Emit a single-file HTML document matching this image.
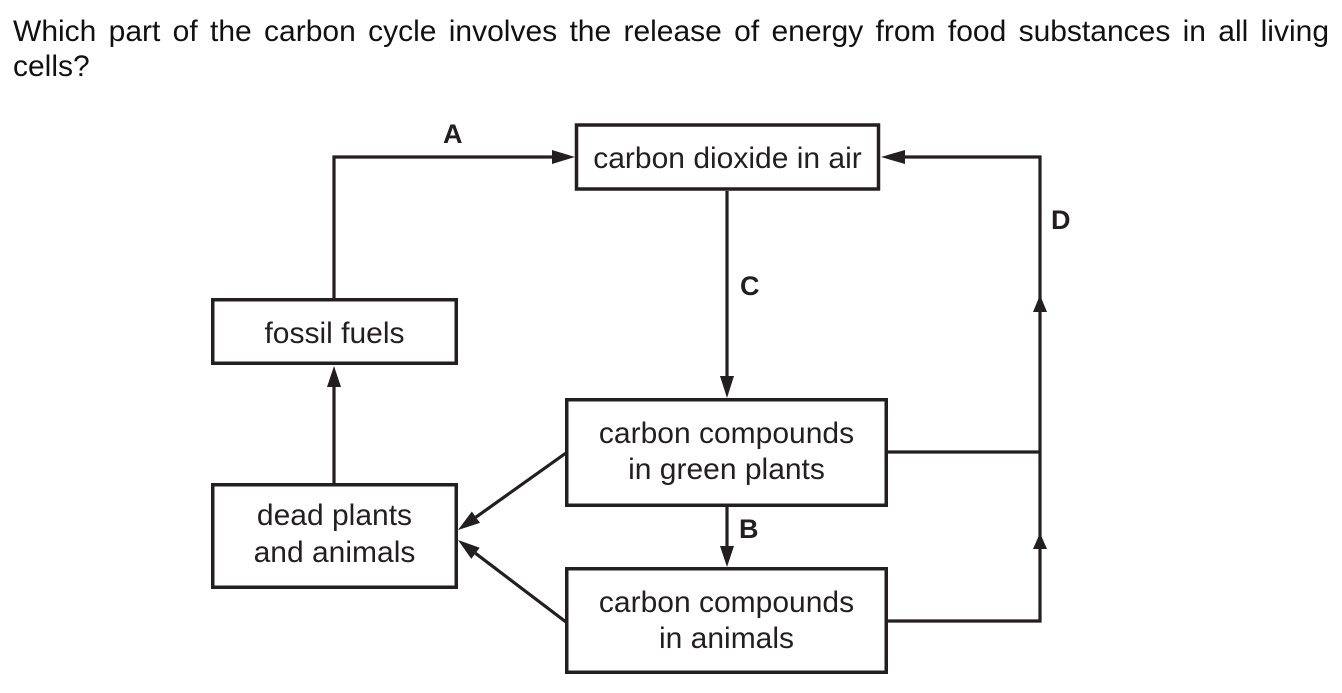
<!DOCTYPE html>
<html>
<head>
<meta charset="utf-8">
<style>
  html, body { margin: 0; padding: 0; background: #fff; }
  body { width: 1342px; height: 693px; position: relative; overflow: hidden; }
  .q { position: absolute; left: 13px; width: 1316px; font-family: "Liberation Sans", Arial, sans-serif; font-size: 30px; line-height: 35px; color: #111; white-space: nowrap; }
  .l1 { top: 14px; text-align: justify; text-align-last: justify; white-space: normal; }
  .l2 { top: 49px; }
  svg { position: absolute; left: 0; top: 0; }
</style>
</head>
<body>
<div class="q l1">Which part of the carbon cycle involves the release of energy from food substances in all living</div>
<div class="q l2">cells?</div>
<svg width="1342" height="693" viewBox="0 0 1342 693" xmlns="http://www.w3.org/2000/svg">
  <g fill="none" stroke="#231f20" stroke-width="3.5">
    <rect x="576.5" y="125" width="302" height="64"/>
    <rect x="212.75" y="299.75" width="243.5" height="63.5"/>
    <rect x="212.75" y="484.75" width="243.5" height="102.5"/>
    <rect x="566.75" y="399.75" width="319.5" height="105.5"/>
    <rect x="566.75" y="568.75" width="319.5" height="103.5"/>
  </g>
  <g fill="none" stroke="#231f20" stroke-width="3.2">
    <polyline points="334,298 334,157 556,157"/>
    <line x1="334" y1="483" x2="334" y2="385"/>
    <line x1="727" y1="191" x2="727" y2="380"/>
    <line x1="727" y1="507" x2="727" y2="548"/>
    <polyline points="888,621 1040,621 1040,157 902,157"/>
    <line x1="888" y1="452" x2="1040" y2="452"/>
    <line x1="566" y1="453" x2="475.9" y2="517.2"/>
    <line x1="566" y1="622" x2="475.5" y2="553.3"/>
  </g>
  <g fill="#231f20">
    <polygon points="552,150 575,157 552,164"/>
    <polygon points="327,387 334,366 341,387"/>
    <polygon points="720,376 727,398 734,376"/>
    <polygon points="720,546 727,567 734,546"/>
    <polygon points="881,157 905,150 905,164"/>
    <polygon points="1033,312 1040,295 1047,312"/>
    <polygon points="1033,549 1040,533 1047,549"/>
    <polygon points="458,530 480,522.9 471.8,511.5"/>
    <polygon points="458,540 479.7,547.7 471.3,558.9"/>
  </g>
  <g font-family="Liberation Sans, Arial, sans-serif" font-size="30" fill="#231f20" text-anchor="middle">
    <text x="727.5" y="168">carbon dioxide in air</text>
    <text x="334.5" y="343">fossil fuels</text>
    <text x="334.5" y="525">dead plants</text>
    <text x="334.5" y="562">and animals</text>
    <text x="726.5" y="443">carbon compounds</text>
    <text x="726.5" y="479">in green plants</text>
    <text x="726.5" y="612">carbon compounds</text>
    <text x="726.5" y="648">in animals</text>
  </g>
  <g font-family="Liberation Sans, Arial, sans-serif" font-size="27" font-weight="bold" fill="#231f20">
    <text x="443" y="143">A</text>
    <text x="739" y="538">B</text>
    <text x="740" y="295">C</text>
    <text x="1051" y="229">D</text>
  </g>
</svg>
</body>
</html>
